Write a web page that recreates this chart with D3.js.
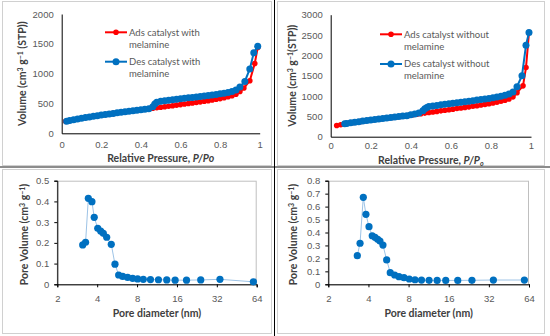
<!DOCTYPE html>
<html>
<head>
<meta charset="utf-8">
<script src="https://cdn.jsdelivr.net/npm/d3@7"></script>
<style>
  body { margin: 0; background: #fff; }
  svg { font-family: Lato, "Liberation Sans", sans-serif; }
</style>
</head>
<body>
<svg width="550" height="336"></svg>
<script>
// isotherm with melamine (top left)
const pAdsWith = [0.02,0.04,0.06,0.08,0.10,0.12,0.14,0.16,0.18,0.20,0.22,0.24,0.26,0.28,0.30,0.32,0.34,0.36,0.38,0.40,0.42,0.44,0.46,0.48,0.50,0.52,0.54,0.56,0.58,0.60,0.62,0.64,0.66,0.68,0.70,0.72,0.74,0.76,0.78,0.80,0.82,0.84,0.86,0.88,0.90,0.92,0.95,0.975,0.99];
const vAdsWith = [200,215,228,240,252,263,274,285,295,305,315,325,334,343,352,361,370,379,388,396,404,412,420,428,436,445,454,463,472,481,490,499,508,517,527,537,547,558,570,582,596,612,630,655,700,760,880,1170,1440];
const pDesWith = [0.99,0.97,0.95,0.925,0.90,0.88,0.86,0.84,0.82,0.80,0.78,0.76,0.74,0.72,0.70,0.68,0.66,0.64,0.62,0.60,0.58,0.56,0.54,0.52,0.50,0.48,0.47,0.46,0.44,0.42,0.40,0.38,0.36,0.34,0.32,0.30,0.28,0.26,0.24,0.22,0.20,0.18,0.16,0.14,0.12,0.10,0.08,0.06,0.04,0.025];
const vDesWith = [1460,1350,1080,870,775,725,700,685,672,662,652,643,634,626,618,610,602,594,586,578,570,562,554,546,538,520,490,445,412,404,396,388,379,370,361,352,343,334,325,315,305,295,285,274,263,252,240,228,215,203];

// isotherm without melamine (top right)
const pAdsWithout = [0.03,0.05,0.07,0.09,0.11,0.13,0.15,0.17,0.19,0.21,0.23,0.25,0.27,0.29,0.31,0.33,0.35,0.37,0.39,0.41,0.43,0.45,0.47,0.49,0.51,0.53,0.55,0.57,0.59,0.61,0.63,0.65,0.67,0.69,0.71,0.73,0.75,0.77,0.79,0.81,0.83,0.85,0.87,0.89,0.91,0.93,0.96,0.975,0.99];
const vAdsWithout = [275,295,315,332,348,362,376,390,403,416,428,440,452,464,476,488,500,512,525,538,552,566,580,594,608,622,636,650,664,678,692,706,720,734,748,762,778,794,812,830,850,872,898,930,980,1080,1250,1700,2560];
const pDesWithout = [0.99,0.975,0.955,0.93,0.91,0.89,0.87,0.85,0.83,0.81,0.79,0.77,0.75,0.73,0.71,0.69,0.67,0.65,0.63,0.61,0.59,0.57,0.55,0.53,0.51,0.49,0.48,0.47,0.46,0.44,0.42,0.40,0.38,0.36,0.34,0.32,0.30,0.28,0.26,0.24,0.22,0.20,0.18,0.16,0.14,0.12,0.10,0.08,0.07];
const vDesWithout = [2560,2250,1500,1230,1100,1050,1020,995,975,958,942,928,914,900,887,874,861,848,835,822,809,796,783,770,756,740,715,690,640,585,560,540,518,506,494,482,470,458,446,434,422,409,396,383,369,355,340,324,317];

// pore size distributions (bottom)
const dWith = [3.11,3.27,3.43,3.65,3.80,4.04,4.25,4.45,4.72,5.11,5.45,5.81,6.23,6.79,7.41,8.08,8.92,10.1,11.6,13.4,15.5,18.9,24.2,33.8,60.4];
const pvWith = [0.190,0.203,0.415,0.399,0.323,0.270,0.257,0.246,0.227,0.193,0.097,0.045,0.038,0.033,0.029,0.026,0.024,0.023,0.022,0.021,0.020,0.020,0.021,0.024,0.012];
const dWithout = [3.30,3.46,3.66,3.83,4.04,4.27,4.48,4.69,4.88,5.14,5.48,5.83,6.29,6.78,7.39,8.10,8.94,10.0,11.4,13.1,15.2,18.7,23.9,34.6,59.1];
const pvWithout = [0.221,0.317,0.672,0.540,0.445,0.375,0.363,0.347,0.334,0.303,0.188,0.090,0.072,0.059,0.051,0.041,0.035,0.033,0.031,0.030,0.030,0.030,0.031,0.033,0.033];

const poreTicks = [2,4,8,16,32,64];

const svg = d3.select('svg');
const red = '#ff0000', blue = '#0070c0', thin = '#9dc3e6';
const tickCol = '#595959', titleCol = '#404040';

// chart area frames and table dividers
[[2,1,269,164],[277,1,267,164],[2,169,269,164],[277,169,267,164]].forEach(b => {
  svg.append('rect').attr('x', b[0] + 0.5).attr('y', b[1] + 0.5)
    .attr('width', b[2]).attr('height', b[3])
    .attr('fill', 'none').attr('stroke', '#d0d0d0');
});
svg.append('line').attr('x1', 0).attr('x2', 550).attr('y1', 167).attr('y2', 167)
  .attr('stroke', '#8c8c8c').attr('stroke-width', 2);
svg.append('line').attr('x1', 274.5).attr('x2', 274.5).attr('y1', 0).attr('y2', 336)
  .attr('stroke', '#000').attr('stroke-width', 1);

function styleAxis(g) {
  g.selectAll('path, line').attr('stroke', '#000');
  g.selectAll('text').attr('fill', tickCol).style('font-size', '9.5px');
}

function isotherm(o) {
  const x = d3.scaleLinear().domain([0, 1]).range([o.x0, o.x1]);
  const y = d3.scaleLinear().domain([0, o.yMax]).range([o.y0, o.y1]);

  svg.append('g').attr('transform', `translate(0,${o.y0})`)
    .call(d3.axisBottom(x).tickValues([0,0.2,0.4,0.6,0.8,1]).tickFormat(d3.format('')).tickSize(0).tickPadding(o.xpad))
    .call(styleAxis);
  svg.append('g').attr('transform', `translate(${o.x0},0)`)
    .call(d3.axisLeft(y).tickValues(d3.range(0, o.yMax + 1, 500)).tickFormat(d3.format('d')).tickSize(0).tickPadding(8))
    .call(styleAxis);

  const series = [
    {p: o.pa, v: o.va, c: red, r: 2.8},
    {p: o.pd, v: o.vd, c: blue, r: 3.5}
  ];
  series.forEach(s => {
    const pts = s.p.map((p, i) => [p, s.v[i]]);
    svg.append('path').datum(pts)
      .attr('fill', 'none').attr('stroke', s.c).attr('stroke-width', 2)
      .attr('d', d3.line().x(d => x(d[0])).y(d => y(d[1])));
    svg.append('g').selectAll('circle').data(pts).join('circle')
      .attr('cx', d => x(d[0])).attr('cy', d => y(d[1])).attr('r', s.r).attr('fill', s.c);
  });

  // legend
  o.legend.forEach((l, i) => {
    const g = svg.append('g').attr('transform', `translate(${o.lx},${l.y})`);
    g.append('line').attr('x1', 0).attr('x2', 22).attr('stroke', series[i].c).attr('stroke-width', 2);
    g.append('circle').attr('cx', 11).attr('r', series[i].r).attr('fill', series[i].c);
    l.lines.forEach((t, j) => {
      g.append('text').attr('x', 24).attr('y', j * 12).attr('dy', '0.35em')
        .attr('fill', tickCol).style('font-size', '9.5px').text(t);
    });
  });

  // axis titles
  const xt = svg.append('text').attr('x', (o.x0 + o.x1) / 2).attr('y', o.xty)
    .attr('text-anchor', 'middle').attr('fill', titleCol)
    .style('font-size', '10.5px').style('font-weight', 'bold');
  xt.append('tspan').text('Relative Pressure, ');
  xt.append('tspan').style('font-style', 'italic').text('P/P');
  xt.append('tspan').style('font-style', 'italic')
    .attr('baseline-shift', o.subO ? '-25%' : null)
    .style('font-size', o.subO ? '7px' : null).text('o');

  const yt = svg.append('text')
    .attr('transform', `translate(${o.ytx},${(o.y0 + o.y1) / 2}) rotate(-90)`)
    .attr('text-anchor', 'middle').attr('fill', titleCol)
    .style('font-size', '10.5px').style('font-weight', 'bold');
  yt.append('tspan').text('Volume (cm');
  yt.append('tspan').attr('baseline-shift', '40%').style('font-size', '7px').text('3');
  yt.append('tspan').text(' g');
  yt.append('tspan').attr('baseline-shift', '40%').style('font-size', '7px').text('\u22121');
  yt.append('tspan').text(o.stpGap ? ' (STP))' : '(STP))');
}

function poreChart(o) {
  const x = d3.scaleLog().base(2).domain([2, 64]).range([o.x0, o.x1]);
  const y = d3.scaleLinear().domain([0, o.yMax]).range([o.y0, o.y1]);

  svg.append('rect').attr('x', o.x0).attr('y', o.y1 + 0.5)
    .attr('width', o.x1 - o.x0 - 0.5).attr('height', o.y0 - o.y1)
    .attr('fill', 'none').attr('stroke', '#bfbfbf');

  svg.append('g').attr('transform', `translate(0,${o.y0})`)
    .call(d3.axisBottom(x).tickValues(poreTicks).tickFormat(d3.format('')).tickSizeOuter(0).tickSize(3).tickPadding(8))
    .call(styleAxis);
  svg.append('g').attr('transform', `translate(${o.x0},0)`)
    .call(d3.axisLeft(y).tickValues(d3.range(0, o.yMax + 0.001, 0.1)).tickFormat(d => d === 0 ? '0' : d3.format('.1f')(d)).tickSizeOuter(0).tickSize(3).tickPadding(5))
    .call(styleAxis);

  const pts = o.d.map((d, i) => [d, o.v[i]]);
  svg.append('path').datum(pts)
    .attr('fill', 'none').attr('stroke', thin).attr('stroke-width', 1)
    .attr('d', d3.line().x(d => x(d[0])).y(d => y(d[1])));
  svg.append('g').selectAll('circle').data(pts).join('circle')
    .attr('cx', d => x(d[0])).attr('cy', d => y(d[1])).attr('r', 3.6).attr('fill', blue);

  svg.append('text').attr('x', (o.x0 + o.x1) / 2).attr('y', o.xty)
    .attr('text-anchor', 'middle').attr('fill', titleCol)
    .style('font-size', '10.5px').style('font-weight', 'bold').text('Pore diameter (nm)');

  const yt = svg.append('text')
    .attr('transform', `translate(${o.ytx},${(o.y0 + o.y1) / 2 + 2}) rotate(-90)`)
    .attr('text-anchor', 'middle').attr('fill', titleCol)
    .style('font-size', '10.5px').style('font-weight', 'bold');
  yt.append('tspan').text('Pore Volume (cm');
  yt.append('tspan').attr('baseline-shift', '40%').style('font-size', '7px').text('3');
  yt.append('tspan').text('  g');
  yt.append('tspan').attr('baseline-shift', '40%').style('font-size', '7px').text('\u22121');
  yt.append('tspan').text(')');
}

isotherm({
  x0: 61.7, x1: 259.7, y0: 133.3, y1: 14, yMax: 2000,
  pa: pAdsWith, va: vAdsWith, pd: pDesWith, vd: vDesWith,
  lx: 105, legend: [
    {y: 32.3, lines: ['Ads catalyst with', 'melamine']},
    {y: 61.7, lines: ['Des catalyst with', 'melamine']}
  ],
  xty: 162, ytx: 26, subO: false, stpGap: true, xpad: 8
});

isotherm({
  x0: 330.7, x1: 531, y0: 136.7, y1: 14.7, yMax: 3000,
  pa: pAdsWithout, va: vAdsWithout, pd: pDesWithout, vd: vDesWithout,
  lx: 380, legend: [
    {y: 34.3, lines: ['Ads catalyst without', 'melamine']},
    {y: 64, lines: ['Des catalyst without', 'melamine']}
  ],
  xty: 163.5, ytx: 296, subO: true, stpGap: false, xpad: 6
});

poreChart({
  x0: 57.3, x1: 256.7, y0: 284.3, y1: 180.7, yMax: 0.5,
  d: dWith, v: pvWith, xty: 317, ytx: 28
});

poreChart({
  x0: 328.3, x1: 529, y0: 284.3, y1: 180.7, yMax: 0.8,
  d: dWithout, v: pvWithout, xty: 317, ytx: 297
});
</script>
</body>
</html>
